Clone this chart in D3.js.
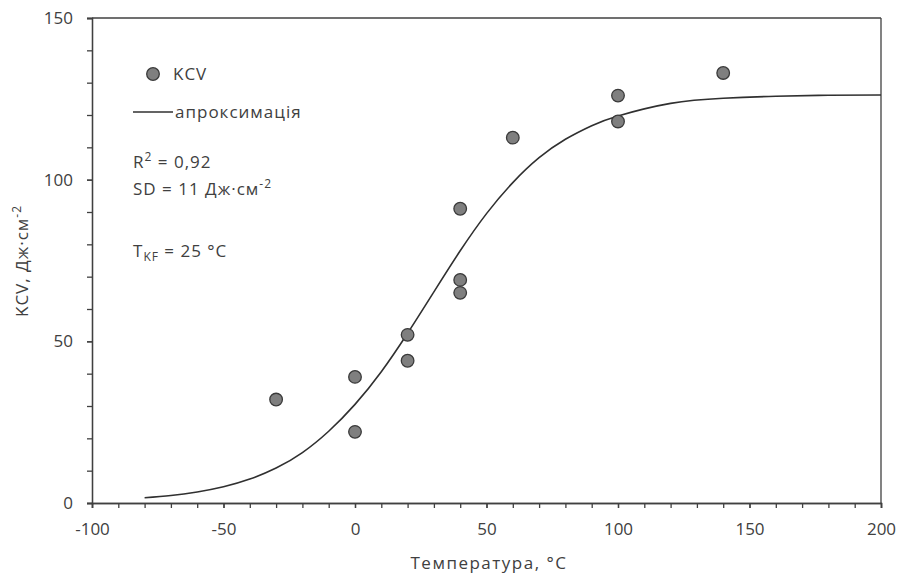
<!DOCTYPE html>
<html>
<head>
<meta charset="utf-8">
<script src="https://cdn.jsdelivr.net/npm/d3@7"></script>
<style>
  body { margin: 0; background: #fff; }
  text { font-family: "Open Sans", "DejaVu Sans", sans-serif; fill: #404040; }
</style>
</head>
<body>
<div id="chart"></div>
<script>
// точки KCV (температура, °C)
const tempPoints = [-30, 0, 0, 20, 20, 40, 40, 40, 60, 100, 100, 140];
const kcvPoints  = [32, 39, 22, 52, 44, 91, 69, 65, 113, 126, 118, 133];

// апроксимація
const fitTemp = [-80, -70, -60, -50, -40, -30, -20, -10, 0, 10, 20, 30, 40, 50, 60, 70, 80, 90, 100, 120, 140, 160, 180, 200];
const fitKcv  = [1.6, 2.3, 3.4, 5.0, 7.4, 10.8, 15.6, 22.2, 30.5, 40.6, 52.5, 65.3, 78, 89.5, 99.1, 106.8, 112.5, 116.7, 119.7, 123.6, 125.2, 125.8, 126.1, 126.2];

const xTicks = [-100, -50, 0, 50, 100, 150, 200];
const yTicks = [0, 50, 100, 150];

const width = 898, height = 577;
const margin = { left: 92, right: 17, top: 18, bottom: 74 };

const svg = d3.select("#chart").append("svg")
    .attr("width", width)
    .attr("height", height);

const x = d3.scaleLinear().domain([-100, 200]).range([margin.left, width - margin.right]);
const y = d3.scaleLinear().domain([0, 150]).range([height - margin.bottom, margin.top]);

const axisColor = "#404040";

// рамка (верх і право)
svg.append("line")
    .attr("x1", x(-100)).attr("x2", x(200))
    .attr("y1", y(150)).attr("y2", y(150))
    .attr("stroke", axisColor).attr("stroke-width", 1.3);
svg.append("line")
    .attr("x1", x(200)).attr("x2", x(200))
    .attr("y1", y(0)).attr("y2", y(150))
    .attr("stroke", axisColor).attr("stroke-width", 1.3);

// вісь X
const gx = svg.append("g")
    .attr("transform", "translate(0," + y(0) + ")")
    .call(d3.axisBottom(x).tickValues(d3.range(-100, 201, 10)).tickSize(5).tickFormat(""));
const gxl = svg.append("g")
    .attr("transform", "translate(0," + y(0) + ")")
    .call(d3.axisBottom(x).tickValues(xTicks).tickSize(5).tickPadding(15).tickFormat(d => String(d)));

// вісь Y
const gy = svg.append("g")
    .attr("transform", "translate(" + x(-100) + ",0)")
    .call(d3.axisLeft(y).tickValues(d3.range(0, 151, 10)).tickSize(5).tickFormat(""));
const gyl = svg.append("g")
    .attr("transform", "translate(" + x(-100) + ",0)")
    .call(d3.axisLeft(y).tickValues(yTicks).tickSize(5).tickPadding(14).tickFormat(d => String(d)));

[gx, gxl, gy, gyl].forEach(g => {
    g.selectAll("path, line").attr("stroke", axisColor).attr("stroke-width", 1.3);
    g.selectAll("text").style("font-size", "17px").attr("fill", "#404040")
        .style("font-family", "'Open Sans', sans-serif");
});

// крива апроксимації
const line = d3.line()
    .x((d, i) => x(fitTemp[i]))
    .y(d => y(d))
    .curve(d3.curveNatural);

svg.append("path")
    .attr("d", line(fitKcv))
    .attr("fill", "none")
    .attr("stroke", "#303030")
    .attr("stroke-width", 1.6);

// точки
svg.append("g").selectAll("circle")
    .data(kcvPoints)
    .join("circle")
    .attr("cx", (d, i) => x(tempPoints[i]))
    .attr("cy", d => y(d))
    .attr("r", 6.3)
    .attr("fill", "#7f7f7f")
    .attr("stroke", "#3a3a3a")
    .attr("stroke-width", 1.3);

const fs = "17px", ls = "1px";

// легенда
svg.append("circle")
    .attr("cx", 153).attr("cy", 74).attr("r", 6.3)
    .attr("fill", "#7f7f7f").attr("stroke", "#3a3a3a").attr("stroke-width", 1.3);
svg.append("text").attr("x", 173).attr("y", 80).style("font-size", fs).style("letter-spacing", ls).text("KCV");

svg.append("line")
    .attr("x1", 133).attr("x2", 173).attr("y1", 112).attr("y2", 112)
    .attr("stroke", "#303030").attr("stroke-width", 1.6);
svg.append("text").attr("x", 175).attr("y", 118).style("font-size", fs).style("letter-spacing", ls).text("апроксимація");

// статистика
const r2 = svg.append("text").attr("x", 133).attr("y", 168).style("font-size", fs).style("letter-spacing", ls);
r2.append("tspan").text("R");
r2.append("tspan").attr("dy", -7).style("font-size", "12px").text("2");
r2.append("tspan").attr("dy", 7).text(" = 0,92");

const sd = svg.append("text").attr("x", 133).attr("y", 195).style("font-size", fs).style("letter-spacing", ls);
sd.append("tspan").text("SD = 11 Дж·см");
sd.append("tspan").attr("dy", -7).style("font-size", "12px").text("-2");

const tkf = svg.append("text").attr("x", 133).attr("y", 257).style("font-size", fs).style("letter-spacing", ls);
tkf.append("tspan").text("T");
tkf.append("tspan").attr("dy", 4).style("font-size", "12px").text("KF");
tkf.append("tspan").attr("dy", -4).text(" = 25 °C");

// назви осей
svg.append("text")
    .attr("x", 489).attr("y", 569)
    .attr("text-anchor", "middle")
    .style("font-size", fs).style("letter-spacing", "1.5px")
    .text("Температура, °C");

const yt = svg.append("text")
    .attr("transform", "translate(28,261) rotate(-90)")
    .attr("text-anchor", "middle")
    .style("font-size", fs).style("letter-spacing", ls);
yt.append("tspan").text("KCV, Дж·см");
yt.append("tspan").attr("dy", -7).style("font-size", "12px").text("-2");
</script>
</body>
</html>
